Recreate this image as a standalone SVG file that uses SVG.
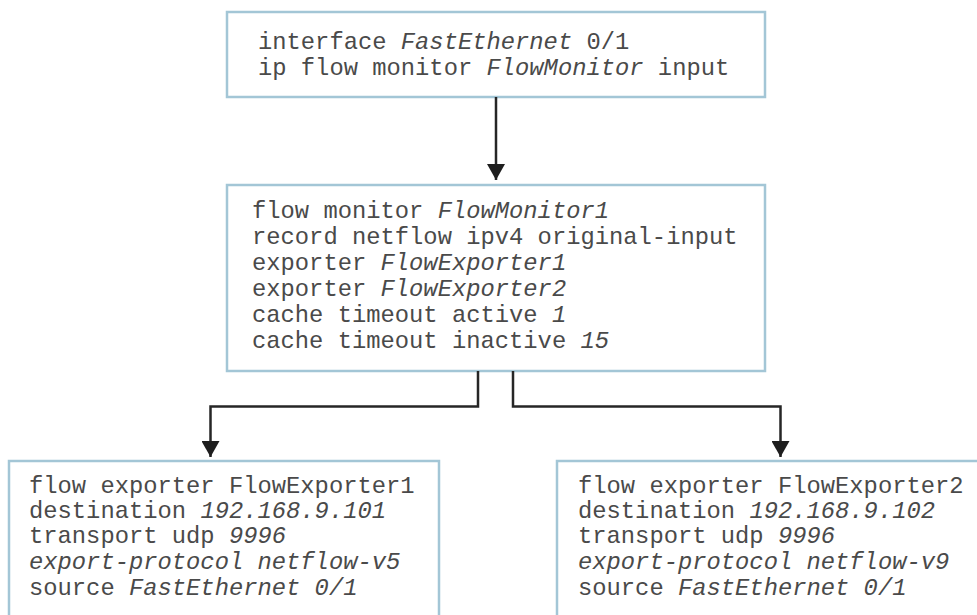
<svg xmlns="http://www.w3.org/2000/svg" width="977" height="615" viewBox="0 0 977 615">
  <style>
    .box { fill: #ffffff; stroke: #a3c6d6; stroke-width: 2.5; }
    .t { font-family: "Liberation Mono", "Courier New", monospace; font-size: 23.8px; fill: #4a4a4a; }
    .i { font-style: italic; }
    .conn { fill: none; stroke: #262626; stroke-width: 2.5; }
  </style>
  <defs>
    <marker id="arrow" markerUnits="userSpaceOnUse" markerWidth="18" markerHeight="18" refX="16" refY="9" orient="auto">
      <path d="M0,0 L16,9 L0,18 Z" fill="#1e1e1e"/>
    </marker>
  </defs>
  <rect width="977" height="615" fill="#ffffff"/>

  <g id="interface-node">
    <rect class="box" x="227" y="12" width="538" height="85"/>
    <text class="t" x="258" y="49">interface <tspan class="i">FastEthernet</tspan> 0/1</text>
    <text class="t" x="258" y="75">ip flow monitor <tspan class="i">FlowMonitor</tspan> input</text>
  </g>

  <g id="monitor-node">
    <rect class="box" x="227" y="185" width="538" height="186"/>
    <text class="t" x="252" y="218">flow monitor <tspan class="i">FlowMonitor1</tspan></text>
    <text class="t" x="252" y="244">record netflow ipv4 original-input</text>
    <text class="t" x="252" y="270">exporter <tspan class="i">FlowExporter1</tspan></text>
    <text class="t" x="252" y="296">exporter <tspan class="i">FlowExporter2</tspan></text>
    <text class="t" x="252" y="322">cache timeout active <tspan class="i">1</tspan></text>
    <text class="t" x="252" y="348">cache timeout inactive <tspan class="i">15</tspan></text>
  </g>

  <g id="exporter1-node">
    <rect class="box" x="9" y="461" width="430" height="170"/>
    <text class="t" x="29" y="493">flow exporter FlowExporter1</text>
    <text class="t" x="29" y="518">destination <tspan class="i">192.168.9.101</tspan></text>
    <text class="t" x="29" y="543">transport udp <tspan class="i">9996</tspan></text>
    <text class="t i" x="29" y="569">export-protocol netflow-v5</text>
    <text class="t" x="29" y="595">source <tspan class="i">FastEthernet 0/1</tspan></text>
  </g>

  <g id="exporter2-node">
    <rect class="box" x="557" y="461" width="440" height="170"/>
    <text class="t" x="578" y="493">flow exporter FlowExporter2</text>
    <text class="t" x="578" y="518">destination <tspan class="i">192.168.9.102</tspan></text>
    <text class="t" x="578" y="543">transport udp <tspan class="i">9996</tspan></text>
    <text class="t i" x="578" y="569">export-protocol netflow-v9</text>
    <text class="t" x="578" y="595">source <tspan class="i">FastEthernet 0/1</tspan></text>
  </g>

  <g id="connectors">
    <path class="conn" d="M496,97 L496,180" marker-end="url(#arrow)"/>
    <path class="conn" d="M478,371 L478,406.5 L210.5,406.5 L210.5,457" marker-end="url(#arrow)"/>
    <path class="conn" d="M513,371 L513,406.5 L780.5,406.5 L780.5,457" marker-end="url(#arrow)"/>
  </g>
</svg>
